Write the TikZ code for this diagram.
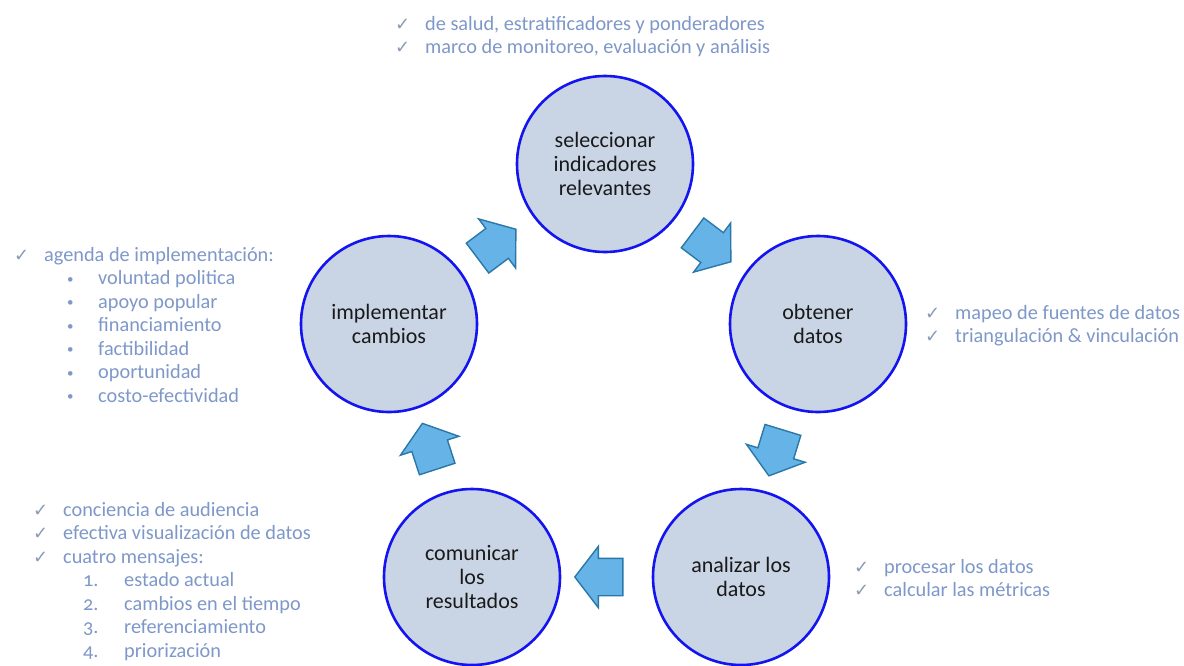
\documentclass[tikz,border=0pt]{standalone}
\usepackage{fontspec}
\setmainfont{Carlito}
\newfontfamily\symfont{DejaVu Sans}
\usetikzlibrary{shapes.arrows,positioning}
\definecolor{stepfill}{HTML}{C9D5E5}
\definecolor{stepline}{HTML}{1414F0}
\definecolor{flowfill}{HTML}{66B3E8}
\definecolor{flowline}{HTML}{2A78A8}
\definecolor{notecol}{HTML}{7E98C9}
\definecolor{chkcol}{HTML}{8A9BB8}
\newcommand{\chk}{\makebox[30pt][l]{\textcolor{chkcol}{\symfont\fontsize{18}{18}\selectfont ✓}}}
\newcommand{\bul}{\hspace*{53pt}\makebox[31pt][l]{\raisebox{1.5pt}{\fontsize{13}{13}\selectfont •}}}
\newcommand{\num}[1]{\hspace*{50pt}\makebox[41pt][l]{\addfontfeatures{Numbers=OldStyle}#1.}}

\begin{document}
\begin{tikzpicture}[x=1pt,y=-1pt]
    \tikzset{stepnode/.style={circle,draw=stepline,fill=stepfill,line width=2.6pt,
        minimum size=176pt,align=center,font=\fontsize{22}{24}\selectfont,text=black!90},
      flow/.style={single arrow,draw=flowline,fill=flowfill,line width=1.4pt,
        minimum height=48pt,single arrow head extend=12pt,single arrow tip angle=105,
        inner xsep=0pt,inner ysep=18pt,text height=0pt,text depth=0pt},
      note/.style={anchor=north west,inner sep=0pt,align=left,text=notecol,
        font=\fontsize{20.3}{23.5}\selectfont}}
    \useasboundingbox[fill=white] (0,0) rectangle (1184,665);
    % the five steps
    \node[stepnode] (sel) at (605,164) {seleccionar\\indicadores\\relevantes};
    \node[stepnode] (obt) at (818,324) {obtener\\datos};
    \node[stepnode] (ana) at (741,577) {analizar los\\datos};
    \node[stepnode] (com) at (472,577) {comunicar\\los\\resultados};
    \node[stepnode] (imp) at (389,324) {implementar\\cambios};
    % block arrows between them
    \node[flow,rotate=37] (f1) at (491,248) {};
    \node[flow,rotate=-37] (f2) at (706,243) {};
    \node[flow,rotate=-107] (f3) at (778,446) {};
    \node[flow,rotate=180] (f4) at (606,577) {};
    \node[flow,rotate=108] (f5) at (432,453) {};
    % notes
    \node[note] (selnote) at (395,16) {\chk de salud, estratificadores y ponderadores\\
      \chk marco de monitoreo, evaluación y análisis};
    \node[note] (obtnote) at (925,305) {\chk mapeo de fuentes de datos\\
      \chk triangulación \& vinculación};
    \node[note] (ananote) at (854,559) {\chk procesar los datos\\
      \chk calcular las métricas};
    \node[note] (impnote) at (14,247) {\chk agenda de implementación:\\
      \bul voluntad politica\\ \bul apoyo popular\\ \bul financiamiento\\
      \bul factibilidad\\ \bul oportunidad\\ \bul costo-efectividad};
    \node[note] (comnote) at (33,502) {\chk conciencia de audiencia\\
      \chk efectiva visualización de datos\\ \chk cuatro mensajes:\\
      \num{1}estado actual\\ \num{2}cambios en el tiempo\\
      \num{3}referenciamiento\\ \num{4}priorización};
\end{tikzpicture}
\end{document}
